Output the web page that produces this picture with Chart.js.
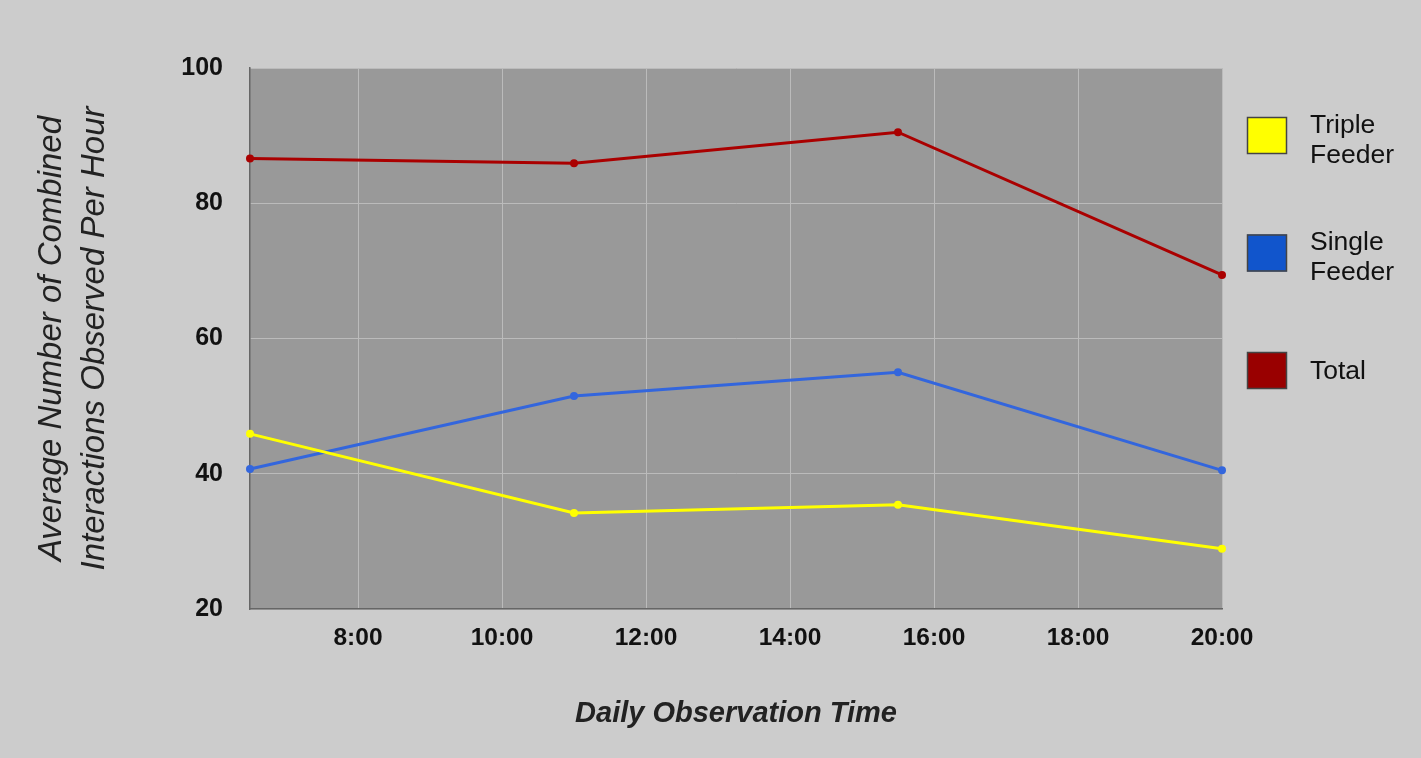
<!DOCTYPE html>
<html>
<head>
<meta charset="utf-8">
<script src="https://cdn.jsdelivr.net/npm/chart.js@4"></script>
<style>
  body { margin: 0; background: #cccccc; }
  canvas { display: block; }
</style>
</head>
<body>
<canvas id="myChart" width="1421" height="758"></canvas>
<script>
// observation times in hours of the day (6:30, 11:00, 15:30, 20:00)
const obsTimes = [6.5, 11, 15.5, 20];

const tripleFeeder = [45.9, 34.2, 35.4, 28.9];
const singleFeeder = [40.7, 51.5, 55.0, 40.5];
const totalCounts = [86.6, 85.9, 90.5, 69.4];

const seriesNames = ["Triple Feeder", "Single Feeder", "Total"];

const xTickValues = [8, 10, 12, 14, 16, 18, 20];
const yTickValues = [20, 40, 60, 80, 100];

const yTitle = ["Average Number of Combined", "Interactions Observed Per Hour"];
const xTitle = "Daily Observation Time";

const FONT = "'Liberation Sans', Arial, sans-serif";

function toPoints(values) {
  return obsTimes.map((t, i) => ({ x: t, y: values[i] }));
}

// gray plot area behind the lines
const plotBackground = {
  id: "plotBackground",
  beforeDraw(chart) {
    const { ctx, chartArea: a } = chart;
    ctx.save();
    ctx.fillStyle = "#999999";
    ctx.fillRect(a.left, a.top, a.right - a.left, a.bottom - a.top);
    ctx.restore();
  }
};

// legend on the right with square boxes and wrapped labels
const boxLegend = {
  id: "boxLegend",
  afterDraw(chart) {
    const ctx = chart.ctx;
    const boxX = 1247, boxW = 40, boxH = 37, top = 117, step = 117.5;
    ctx.save();
    ctx.font = "26.5px " + FONT;
    ctx.textBaseline = "middle";
    ctx.textAlign = "left";
    chart.data.datasets.forEach((ds, i) => {
      const y = top + i * step;
      ctx.fillStyle = ds.backgroundColor;
      ctx.fillRect(boxX, y, boxW, boxH);
      ctx.strokeStyle = "#444444";
      ctx.lineWidth = 1.5;
      ctx.strokeRect(boxX + 0.5, y + 0.5, boxW - 1, boxH - 1);
      const lines = ds.label.split(" ");
      const mid = y + boxH / 2 + (lines.length > 1 ? 5 : 1);
      ctx.fillStyle = "#111111";
      lines.forEach((line, j) => {
        ctx.fillText(line, 1310, mid + (j - (lines.length - 1) / 2) * 30);
      });
    });
    ctx.restore();
  }
};

const ctx = document.getElementById("myChart").getContext("2d");
const myChart = new Chart(ctx, {
  type: "line",
  data: {
    datasets: [
      {
        label: seriesNames[0],
        data: toPoints(tripleFeeder),
        borderColor: "#ffff00",
        backgroundColor: "#ffff00",
        pointBackgroundColor: "#ffff00",
        clip: false
      },
      {
        label: seriesNames[1],
        data: toPoints(singleFeeder),
        borderColor: "#3366dd",
        backgroundColor: "#1155cc",
        pointBackgroundColor: "#3366dd",
        clip: false
      },
      {
        label: seriesNames[2],
        data: toPoints(totalCounts),
        borderColor: "#aa0000",
        backgroundColor: "#990000",
        pointBackgroundColor: "#aa0000",
        clip: false
      }
    ]
  },
  options: {
    responsive: false,
    animation: false,
    layout: { padding: { left: 0, top: 68, right: 199, bottom: 0 } },
    elements: {
      line: { borderWidth: 3, tension: 0, fill: false },
      point: { radius: 4, borderWidth: 0, hoverRadius: 4 }
    },
    plugins: {
      legend: { display: false },
      tooltip: { enabled: false }
    },
    scales: {
      x: {
        type: "linear",
        min: 6.5,
        max: 20,
        afterBuildTicks: (scale) => { scale.ticks = xTickValues.map(v => ({ value: v })); },
        afterFit: (scale) => { scale.height = 149; },
        grid: { color: "#bbbbbb", lineWidth: 1, drawTicks: false },
        border: { color: "#666666", width: 1.5 },
        ticks: {
          padding: 15,
          color: "#111111",
          font: { family: FONT, size: 24.5, weight: "bold" },
          callback: (v) => v + ":00"
        },
        title: {
          display: true,
          text: xTitle,
          color: "#222222",
          font: { family: FONT, size: 29, weight: "bold", style: "italic" },
          padding: { bottom: 27, top: 0 }
        }
      },
      y: {
        min: 20,
        max: 100,
        afterBuildTicks: (scale) => { scale.ticks = yTickValues.map(v => ({ value: v })); },
        afterFit: (scale) => { scale.width = 250; },
        grid: { color: "#bbbbbb", lineWidth: 1, drawTicks: false },
        border: { color: "#666666", width: 1.5 },
        ticks: {
          padding: 27,
          color: "#111111",
          font: { family: FONT, size: 25, weight: "bold" }
        },
        title: {
          display: true,
          text: yTitle,
          color: "#222222",
          font: { family: FONT, size: 33, style: "italic", lineHeight: 1.3 },
          padding: { top: 30, bottom: 0 }
        }
      }
    }
  },
  plugins: [plotBackground, boxLegend]
});
</script>
</body>
</html>
